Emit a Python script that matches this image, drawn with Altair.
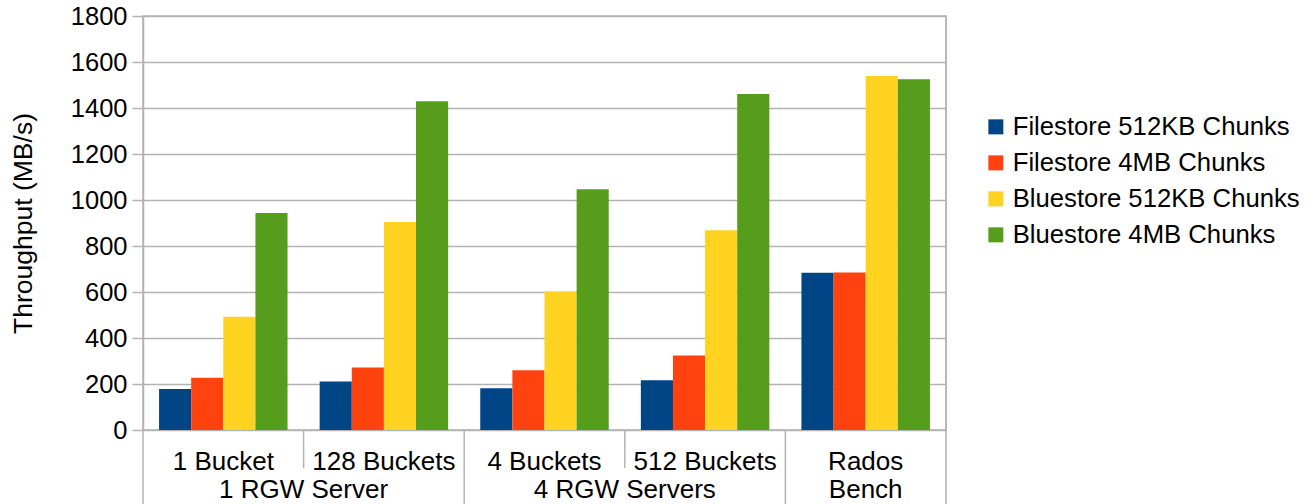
import altair as alt
import pandas as pd

categories = ["1 Bucket", "128 Buckets", "4 Buckets", "512 Buckets", "Rados Bench"]
series = ["Filestore 512KB Chunks", "Filestore 4MB Chunks",
          "Bluestore 512KB Chunks", "Bluestore 4MB Chunks"]
filestore_512k = [178, 211, 182, 216, 684]
filestore_4m = [227, 272, 260, 324, 685]
bluestore_512k = [492, 904, 602, 869, 1539]
bluestore_4m = [943, 1429, 1047, 1461, 1525]
colors = ["#004586", "#ff420e", "#ffd320", "#579d1c"]

# two-level x labels
level1_labels = ["1 Bucket", "128 Buckets", "4 Buckets", "512 Buckets", "Rados"]
level2_labels = ["1 RGW Server", "4 RGW Servers", "Bench"]
level2_anchor = ["1 Bucket", "4 Buckets", "Rados Bench"]
long_tick_left = ["1 Bucket", "4 Buckets", "Rados Bench"]
short_tick_left = ["128 Buckets", "512 Buckets"]

values = [filestore_512k, filestore_4m, bluestore_512k, bluestore_4m]
rows = []
for s, vals in zip(series, values):
    for c, v in zip(categories, vals):
        rows.append({"cat": c, "series": s, "value": v})
df = pd.DataFrame(rows)

FONT = "Liberation Sans"
FS = 25
FSX = 26
W, H = 803, 414
GRID = "#b3b3b3"

xscale = alt.Scale(domain=categories, paddingInner=0, paddingOuter=0)

bars = alt.Chart(df).mark_bar().encode(
    x=alt.X("cat:N", scale=xscale, axis=None, sort=categories),
    xOffset=alt.XOffset("series:N", sort=series,
                        scale=alt.Scale(domain=series, paddingOuter=0.5, paddingInner=0)),
    y=alt.Y("value:Q", scale=alt.Scale(domain=[0, 1800], nice=False),
            axis=alt.Axis(values=list(range(0, 1801, 200)), format="d",
                          title="Throughput (MB/s)",
                          titleX=-120, titleY=H / 2, titleAngle=270,
                          titleBaseline="middle", titleAlign="center",
                          titleFontSize=26.5, titleFontWeight="normal",
                          labelFontSize=FS + 0.5, labelPadding=5, tickSize=11,
                          tickColor=GRID, domainColor=GRID, gridColor=GRID,
                          tickWidth=1.5, domainWidth=1.5, gridWidth=1.5)),
    color=alt.Color("series:N", sort=series,
                    scale=alt.Scale(domain=series, range=colors),
                    legend=alt.Legend(title=None, orient="none", legendX=840, legendY=98,
                                      symbolType="square", symbolSize=225,
                                      symbolStrokeWidth=0, labelFontSize=25.7,
                                      labelOffset=4, rowPadding=9, padding=0,
                                      labelLimit=400)),
)

l1 = pd.DataFrame({"cat": categories, "label": level1_labels})
t1 = alt.Chart(l1).mark_text(fontSize=FSX, font=FONT, baseline="alphabetic", color="black").encode(
    x=alt.X("cat:N", scale=xscale, sort=categories, bandPosition=0.5),
    y=alt.value(454),
    text="label:N",
)

l2 = pd.DataFrame({"cat": level2_anchor[:2], "label": level2_labels[:2]})
t2 = alt.Chart(l2).mark_text(fontSize=FSX, font=FONT, baseline="alphabetic", color="black").encode(
    x=alt.X("cat:N", scale=xscale, sort=categories, bandPosition=1),
    y=alt.value(482),
    text="label:N",
)
l3 = pd.DataFrame({"cat": level2_anchor[2:], "label": level2_labels[2:]})
t3 = alt.Chart(l3).mark_text(fontSize=FSX, font=FONT, baseline="alphabetic", color="black").encode(
    x=alt.X("cat:N", scale=xscale, sort=categories, bandPosition=0.5),
    y=alt.value(482),
    text="label:N",
)

lt = pd.DataFrame({"cat": long_tick_left})
r_long = alt.Chart(lt).mark_rule(color=GRID, strokeWidth=1.5).encode(
    x=alt.X("cat:N", scale=xscale, sort=categories, bandPosition=0),
    y=alt.value(H), y2=alt.value(488),
)
rt = pd.DataFrame({"cat": [categories[-1]]})
r_right = alt.Chart(rt).mark_rule(color=GRID, strokeWidth=1.5).encode(
    x=alt.X("cat:N", scale=xscale, sort=categories, bandPosition=1),
    y=alt.value(0), y2=alt.value(488),
)
st = pd.DataFrame({"cat": short_tick_left})
r_short = alt.Chart(st).mark_rule(color=GRID, strokeWidth=1.5).encode(
    x=alt.X("cat:N", scale=xscale, sort=categories, bandPosition=0),
    y=alt.value(H), y2=alt.value(452),
)

chart = alt.layer(bars, r_long, r_right, r_short, t1, t2, t3).properties(
    width=W, height=H,
    autosize=alt.AutoSizeParams(type="none"),
    padding={"left": 143, "top": 16, "right": 369, "bottom": 74},
).configure(font=FONT).configure_view(stroke=GRID, strokeWidth=1.5).configure_axis(
    labelColor="black", titleColor="black", labelFont=FONT, titleFont=FONT
).configure_legend(labelFont=FONT, labelColor="black")

chart.save("out.html", embed_options={"renderer": "svg", "actions": False})
